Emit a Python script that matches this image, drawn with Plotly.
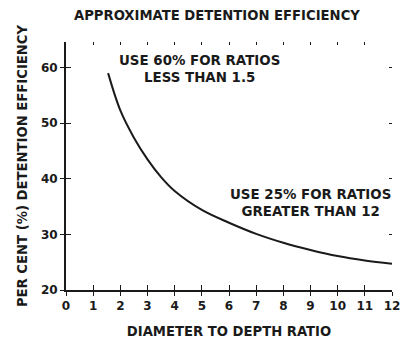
import plotly.graph_objects as go

ratio = [1.55, 2.0, 2.5, 3.0, 3.5, 4.0, 5.0, 6.0, 7.0, 8.0, 9.0, 10.0, 11.0, 12.0]
efficiency = [59.0, 52.3, 47.4, 43.5, 40.3, 37.8, 34.4, 32.1, 30.1, 28.5, 27.2, 26.1, 25.3, 24.7]

x_ticks = list(range(0, 13))
y_ticks = [20, 30, 40, 50, 60]

ink = "#1a1a1a"
font = dict(family="DejaVu Sans, Verdana, sans-serif", color=ink, weight="bold")

fig = go.Figure()
fig.add_trace(go.Scatter(x=ratio, y=efficiency, mode="lines",
                         line=dict(color=ink, width=2, shape="spline", smoothing=1.0),
                         showlegend=False, hoverinfo="skip"))
# dummy traces so the overlay axes get drawn
fig.add_trace(go.Scatter(x=[None], y=[None], xaxis="x2", yaxis="y2", showlegend=False))
fig.add_trace(go.Scatter(x=[None], y=[None], xaxis="x3", yaxis="y3", showlegend=False))

fig.add_annotation(x=4.93, y=59.7, text="USE 60% FOR RATIOS<br>LESS THAN 1.5",
                   showarrow=False, font=dict(size=13.4, **font), align="center")
fig.add_annotation(x=9.0, y=35.6, text="USE 25% FOR RATIOS<br>GREATER THAN 12",
                   showarrow=False, font=dict(size=13.4, **font), align="center")

xr = [0, 12]
yr = [20, 64.6]

# page body has an 8px margin, so the figure is 8px smaller than the window
fig.update_layout(
    width=401, height=338,
    margin=dict(l=58, r=9, t=34, b=48),
    paper_bgcolor="white", plot_bgcolor="white",
    font=dict(size=12, **font),
    title=dict(text="APPROXIMATE DETENTION EFFICIENCY", x=0.521, xref="container",
               xanchor="center", y=0.979, yref="container", yanchor="middle",
               font=dict(size=13.2, **font)),
    xaxis=dict(range=xr, tickvals=x_ticks, ticks="outside", ticklen=4, tickwidth=1.2,
               tickcolor=ink, showline=True, linecolor=ink, linewidth=2,
               showgrid=False, zeroline=False, anchor="y",
               tickfont=dict(size=12, **font),
               title=dict(text="DIAMETER TO DEPTH RATIO", standoff=14,
                          font=dict(size=13.2, **font))),
    yaxis=dict(range=yr, tickvals=y_ticks, ticks="outside", ticklen=4, tickwidth=1.2,
               tickcolor=ink, showline=True, linecolor=ink, linewidth=2,
               showgrid=False, zeroline=False, anchor="x",
               tickfont=dict(size=12, **font),
               title=dict(text="PER CENT (%) DETENTION EFFICIENCY", standoff=10,
                          font=dict(size=13.2, **font))),
    # inside half of the crossing ticks on the main axes
    xaxis2=dict(range=xr, tickvals=x_ticks, ticks="inside", ticklen=5, tickwidth=1.2,
                tickcolor=ink, showticklabels=False, showgrid=False, zeroline=False,
                overlaying="x", side="bottom", anchor="y2"),
    yaxis2=dict(range=yr, tickvals=y_ticks, ticks="inside", ticklen=5, tickwidth=1.2,
                tickcolor=ink, showticklabels=False, showgrid=False, zeroline=False,
                overlaying="y", side="left", anchor="x2"),
    # faint ticks on the top and right edges
    xaxis3=dict(range=xr, tickvals=x_ticks[1:], ticks="inside", ticklen=3, tickwidth=1,
                tickcolor=ink, showticklabels=False, showgrid=False, zeroline=False,
                overlaying="x", side="top", anchor="y3"),
    yaxis3=dict(range=yr, tickvals=y_ticks[1:], ticks="inside", ticklen=3, tickwidth=1,
                tickcolor=ink, showticklabels=False, showgrid=False, zeroline=False,
                overlaying="y", side="right", anchor="x3"),
)

fig.write_html("out.html")
